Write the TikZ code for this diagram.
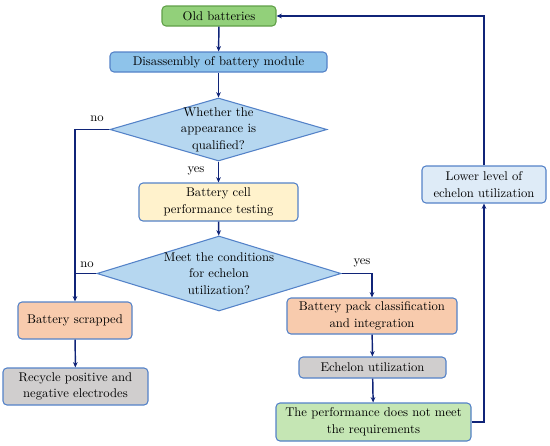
\documentclass[tikz,border=0pt]{standalone}
\usepackage{tikz}
\usetikzlibrary{shapes.geometric, arrows.meta}
\usepackage{xcolor}

\definecolor{navyline}{RGB}{16,36,120}
\definecolor{edgeblue}{RGB}{84,130,200}
\definecolor{edgegreen}{RGB}{96,160,72}
\definecolor{oldgreen}{RGB}{146,208,122}
\definecolor{paleblue}{RGB}{142,195,234}
\definecolor{diamblue}{RGB}{182,215,240}
\definecolor{paleyellow}{RGB}{255,242,204}
\definecolor{paleorange}{RGB}{248,203,173}
\definecolor{palegray}{RGB}{208,206,206}
\definecolor{palegreen}{RGB}{197,230,180}
\definecolor{iceblue}{RGB}{222,235,247}

\begin{document}
\begin{tikzpicture}[
    x=0.75pt, y=-0.75pt,
    every node/.style={font=\rmfamily\fontsize{9.5}{12.4}\selectfont},
    box/.style={rectangle, draw=edgeblue, line width=0.8pt, rounded corners=3pt, inner sep=0pt, align=center},
    decision/.style={diamond, draw=edgeblue, line width=0.8pt, fill=diamblue, inner sep=0pt},
    arrow/.style={-{Stealth[length=4pt, width=3.5pt]}, navyline, line width=1.1pt},
    joinline/.style={navyline, line width=1.1pt}
]
    \useasboundingbox (0,0) rectangle (550,446);

    % Main column
    \node[box, draw=edgegreen, fill=oldgreen, minimum width=85.5pt, minimum height=15pt] (old) at (219,16) {Old batteries};
    \node[box, fill=paleblue, minimum width=162.75pt, minimum height=15pt] (disasm) at (218.5,62) {Disassembly of battery module};
    \node[decision, minimum width=162.75pt, minimum height=47.25pt,
          label={[align=center]center:Whether the\\appearance is\\qualified?}] (appear) at (218.5,129.5) {};
    \node[box, fill=paleyellow, minimum width=119.25pt, minimum height=28.5pt] (celltest) at (218.5,202) {Battery cell\\performance testing};
    \node[decision, minimum width=183pt, minimum height=56.25pt,
          label={[align=center]center:Meet the conditions\\for echelon\\utilization?}] (echcond) at (219,273.5) {};

    % Scrap column
    \node[box, fill=paleorange, minimum width=85.5pt, minimum height=27.75pt] (scrap) at (75,320.5) {Battery scrapped};
    \node[box, fill=palegray, minimum width=108.75pt, minimum height=27.75pt] (recycle) at (75.5,386.5) {Recycle positive and\\negative electrodes};

    % Reuse column
    \node[box, fill=paleorange, minimum width=127.5pt, minimum height=27pt] (pack) at (372,316) {Battery pack classification\\and integration};
    \node[box, fill=palegray, minimum width=110.25pt, minimum height=15.75pt] (echuse) at (372.5,367.5) {Echelon utilization};
    \node[box, fill=palegreen, minimum width=146.25pt, minimum height=28.5pt] (perf) at (373.5,422) {The performance does not meet\\the requirements};
    \node[box, fill=iceblue, minimum width=93pt, minimum height=27.75pt] (lower) at (484,184.5) {Lower level of\\echelon utilization};

    % Labels
    \node (no1) at (97,119) {no};
    \node (yes1) at (196,171) {yes};
    \node (no2) at (87,265) {no};
    \node (yes2) at (362,263) {yes};

    % Arrows
    \draw[arrow] (old) -- (disasm);
    \draw[arrow] (disasm) -- (appear);
    \draw[arrow] (appear) -- (celltest);
    \draw[arrow] (celltest) -- (echcond);
    \draw[arrow] (appear.west) -| (scrap.north);
    \draw[joinline] (echcond.west) -- (scrap.north |- echcond.west);
    \draw[arrow] (scrap) -- (recycle);
    \draw[arrow] (echcond.east) -| (pack.north);
    \draw[arrow] (pack) -- (echuse);
    \draw[arrow] (echuse) -- (perf);
    \draw[arrow] (perf.east) -| (lower.south);
    \draw[arrow] (lower.north) |- (old.east);

\end{tikzpicture}
\end{document}
